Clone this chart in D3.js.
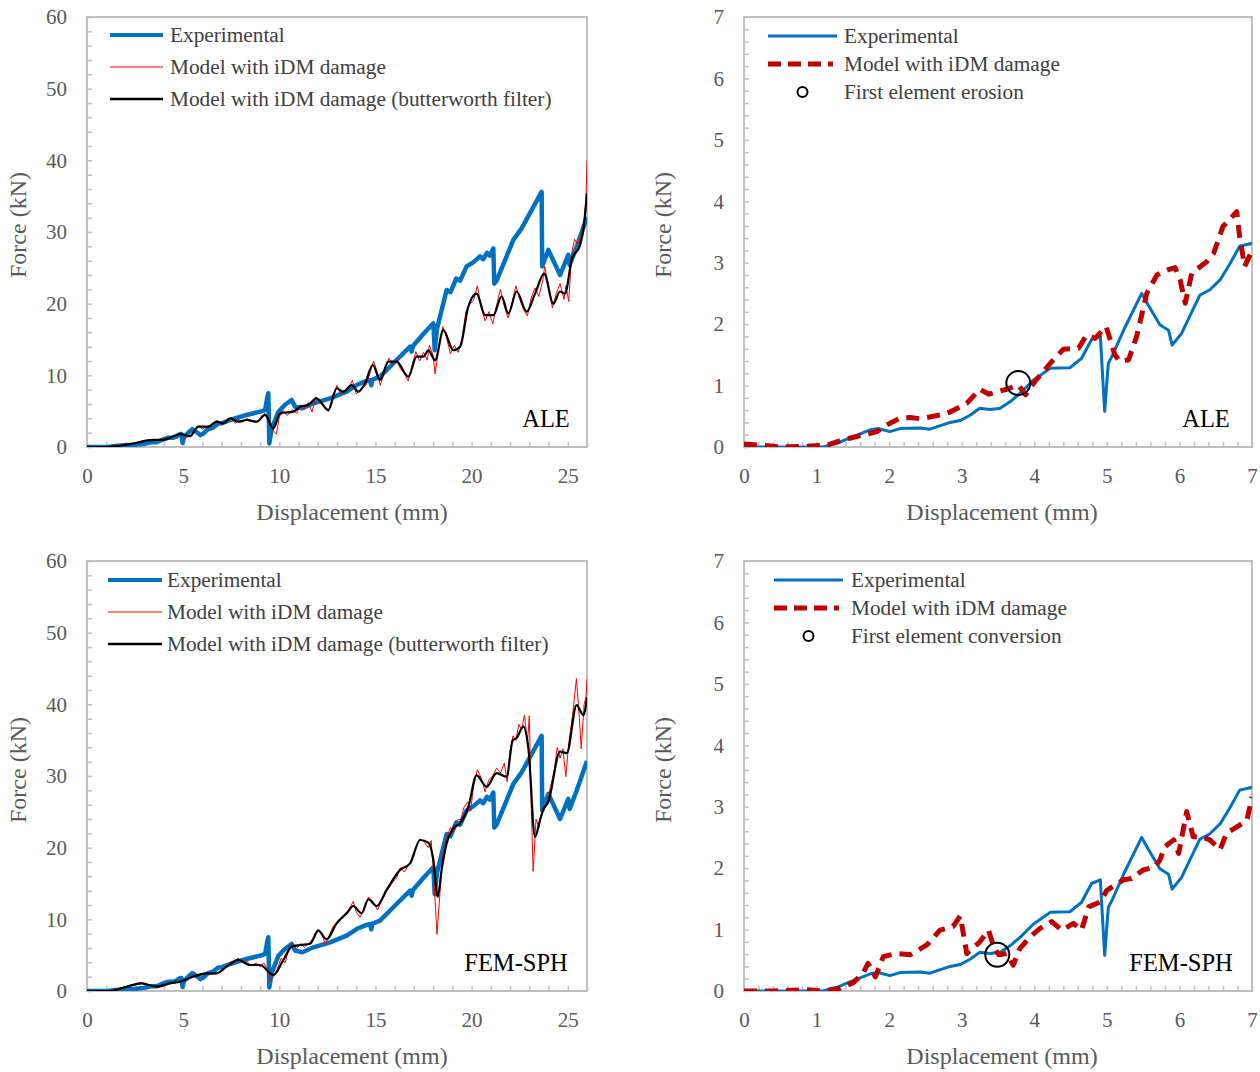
<!DOCTYPE html>
<html><head><meta charset="utf-8">
<script src="https://cdn.jsdelivr.net/npm/d3@7"></script>
<style>
body{margin:0;background:#fff}
text{font-family:"Liberation Serif","Times New Roman",serif}
</style>
</head><body>
<svg id="c" width="1260" height="1072"></svg>
<script>
// ---------------- DATA ----------------
// Experimental force-displacement (full range, mm / kN)
const expFull = [[0,0],[1.09,0],[1.46,0.15],[2.0,0.25],[2.5,0.3],[3.0,0.45],[3.3,0.65],[3.6,0.65],[3.8,0.87],[4.0,1.1],[4.2,1.28],[4.5,1.3],[4.65,1.45],[4.8,1.75],[4.91,1.81],[4.97,0.58],[5.05,1.4],[5.23,1.9],[5.48,2.5],[5.75,1.99],[5.9,1.66],[6.03,1.85],[6.28,2.47],[6.56,2.72],[6.83,3.27],[7.02,3.32],[7.44,3.77],[8.3,4.47],[9.0,4.93],[9.26,5.16],[9.38,7.0],[9.43,7.5],[9.48,0.5],[9.6,2.5],[9.95,4.9],[10.3,5.9],[10.64,6.56],[10.82,5.63],[11.2,5.4],[11.77,6.1],[12.64,6.79],[13.5,7.72],[14.02,8.65],[14.5,9.2],[14.72,9.35],[14.78,8.6],[14.85,9.4],[15.24,9.81],[16.1,12.14],[16.8,14.0],[16.88,13.3],[16.95,14.1],[17.5,15.8],[18.01,17.26],[18.08,13.5],[18.2,16.5],[18.7,21.9],[18.9,21.6],[19.2,23.5],[19.4,23.2],[19.74,25.2],[20.1,25.8],[20.44,26.6],[20.6,26.2],[20.8,27.1],[20.95,26.7],[21.13,27.7],[21.18,22.8],[21.3,23.2],[22.17,28.9],[22.6,30.5],[23.64,35.6],[23.67,25.2],[23.99,27.5],[24.6,24.0],[25.03,26.8],[25.1,25.4],[25.46,27.95],[26.0,32.1]];
// Experimental, first 7 mm
const expEarly = [[0,0],[1.09,0],[1.28,0.06],[1.46,0.15],[1.74,0.28],[1.85,0.30],[2.01,0.25],[2.15,0.30],[2.43,0.31],[2.56,0.29],[2.84,0.40],[2.98,0.43],[3.12,0.52],[3.25,0.63],[3.39,0.61],[3.53,0.63],[3.67,0.74],[3.80,0.87],[3.99,1.09],[4.22,1.28],[4.49,1.29],[4.65,1.44],[4.79,1.75],[4.91,1.81],[4.97,0.58],[5.02,1.36],[5.08,1.50],[5.23,1.90],[5.48,2.50],[5.57,2.31],[5.73,1.99],[5.85,1.90],[5.90,1.66],[6.03,1.85],[6.28,2.47],[6.42,2.56],[6.56,2.72],[6.70,2.99],[6.83,3.27],[7.02,3.32]];
// ALE model, raw
const aleRaw = [[0,0],[1,0],[2,0.3],[3,0.9],[3.5,1.0],[4,1.1],[4.5,1.5],[4.85,1.9],[5.1,1.3],[5.4,1.6],[5.8,2.9],[6.0,2.5],[6.3,2.9],[6.6,3.2],[6.8,3.7],[7.0,3.1],[7.3,3.9],[7.5,4.1],[7.7,3.3],[7.9,3.8],[8.1,3.5],[8.3,4.0],[8.6,3.6],[8.8,3.4],[9.0,3.9],[9.25,4.7],[9.45,4.0],[9.7,2.2],[9.85,1.8],[10.0,4.2],[10.2,5.1],[10.4,4.4],[10.7,5.2],[10.9,4.7],[11.1,5.9],[11.3,5.2],[11.5,6.2],[11.7,4.9],[11.9,7.0],[12.1,6.3],[12.3,5.8],[12.55,4.9],[12.8,7.1],[13.0,8.6],[13.2,7.4],[13.4,7.9],[13.6,8.2],[13.8,9.3],[14.0,7.4],[14.2,8.0],[14.5,8.6],[14.7,10.2],[14.9,12.0],[15.1,10.4],[15.25,8.6],[15.5,10.8],[15.7,12.4],[15.9,11.5],[16.1,12.3],[16.3,10.9],[16.5,10.3],[16.7,9.2],[16.9,11.3],[17.1,13.3],[17.3,12.0],[17.5,13.2],[17.7,12.1],[17.8,14.2],[18.0,12.8],[18.1,10.2],[18.3,14.0],[18.5,16.8],[18.7,15.2],[18.9,13.0],[19.1,14.2],[19.3,13.2],[19.5,15.0],[19.7,18.9],[19.9,19.9],[20.1,20.5],[20.3,22.5],[20.5,19.5],[20.7,17.6],[20.9,18.9],[21.1,17.2],[21.3,19.8],[21.5,22.0],[21.7,19.6],[21.9,18.0],[22.1,20.0],[22.3,22.5],[22.5,20.6],[22.7,19.2],[22.9,18.3],[23.1,20.8],[23.3,22.2],[23.5,21.0],[23.7,23.3],[23.8,25.2],[24.0,22.5],[24.2,19.4],[24.4,21.4],[24.6,22.8],[24.8,20.6],[24.9,22.5],[25.05,20.3],[25.2,27.0],[25.35,29.0],[25.5,28.3],[25.7,29.5],[25.85,31.5],[25.95,35.0],[26.0,40.0]];
// ALE model, butterworth filtered
const aleFilt = [[0,0],[1,0],[2.24,0.4],[3.45,1.0],[3.97,1.0],[4.84,1.81],[5.36,1.53],[5.79,2.84],[6.31,2.84],[6.74,3.53],[7.09,3.3],[7.44,4.0],[7.87,3.53],[8.3,3.77],[8.82,3.53],[9.26,4.47],[9.69,2.6],[10.04,4.7],[10.73,4.93],[11.08,5.63],[11.5,5.86],[11.93,6.79],[12.55,5.16],[12.98,8.18],[13.33,7.72],[13.76,8.65],[14.11,7.72],[14.46,8.88],[14.86,11.44],[15.24,9.35],[15.67,11.9],[16.1,11.9],[16.71,9.81],[17.14,12.6],[17.49,12.6],[17.75,13.5],[18.1,12.1],[18.53,16.3],[19.05,13.5],[19.4,14.0],[19.83,19.6],[20.26,21.4],[20.7,18.4],[21.13,18.4],[21.56,21.0],[21.91,18.65],[22.34,21.7],[22.86,18.9],[23.3,21.4],[23.77,24.2],[24.25,20.0],[24.6,21.7],[24.86,21.4],[25.2,26.1],[25.64,28.2],[25.81,30.3],[26.0,35.4]];
// FEM-SPH model, raw
const sphRaw = [[0,0],[1.2,0],[2.0,0.6],[2.5,1.0],[2.85,1.2],[3.2,0.8],[3.6,0.5],[4.0,0.9],[4.4,1.2],[4.8,1.2],[5.2,1.6],[5.5,2.1],[5.8,2.0],[6.2,2.6],[6.5,2.3],[6.8,2.6],[7.1,3.0],[7.3,3.6],[7.6,3.8],[7.85,4.6],[8.1,3.9],[8.3,4.2],[8.5,3.5],[8.8,3.9],[9.0,3.4],[9.2,3.9],[9.4,2.9],[9.55,1.4],[9.7,2.0],[9.9,3.1],[10.1,4.6],[10.3,3.9],[10.5,5.9],[10.7,6.6],[10.9,5.9],[11.1,6.6],[11.3,6.1],[11.6,6.8],[11.8,7.5],[12.0,8.6],[12.2,8.0],[12.4,6.5],[12.6,7.8],[12.8,9.0],[13.0,9.6],[13.3,10.4],[13.6,11.3],[13.85,12.5],[14.0,11.0],[14.2,10.3],[14.4,11.4],[14.65,13.1],[14.9,12.4],[15.1,11.3],[15.3,12.4],[15.6,14.0],[15.9,15.2],[16.1,15.8],[16.3,17.2],[16.5,16.6],[16.8,17.9],[17.0,19.3],[17.3,21.2],[17.5,20.9],[17.75,20.0],[17.9,21.0],[18.05,15.0],[18.2,7.9],[18.35,13.5],[18.5,19.0],[18.7,21.4],[18.9,22.8],[19.05,22.0],[19.2,23.8],[19.45,24.0],[19.6,25.6],[19.8,26.4],[19.95,25.1],[20.1,28.6],[20.3,30.9],[20.5,29.7],[20.7,27.8],[20.9,29.5],[21.1,30.0],[21.3,31.1],[21.5,30.4],[21.7,31.8],[21.85,29.2],[22.0,33.5],[22.15,35.6],[22.3,35.0],[22.45,37.2],[22.6,36.5],[22.75,38.5],[22.9,34.5],[23.0,38.4],[23.1,26.0],[23.2,16.7],[23.35,24.0],[23.5,22.8],[23.7,25.6],[23.9,26.0],[24.1,28.5],[24.3,30.8],[24.45,34.0],[24.6,32.5],[24.75,33.8],[24.9,29.9],[25.05,34.6],[25.25,38.5],[25.45,43.6],[25.6,38.2],[25.7,33.8],[25.85,40.0],[25.95,41.0],[26.0,43.5]];
// FEM-SPH model, butterworth filtered
const sphFilt = [[0,0],[1.2,0],[2.06,0.6],[2.84,1.07],[3.62,0.6],[4.32,1.07],[4.84,1.3],[5.53,2.0],[6.22,2.47],[6.74,2.47],[7.26,3.4],[7.87,4.33],[8.48,3.63],[9.0,3.63],[9.69,2.23],[10.21,4.33],[10.64,6.19],[11.08,6.42],[11.6,6.6],[12.03,8.42],[12.46,7.2],[12.98,9.44],[13.5,10.84],[13.85,11.86],[14.28,10.84],[14.63,12.8],[15.06,11.86],[15.58,14.1],[16.28,16.9],[16.8,17.8],[17.32,21.07],[17.75,20.7],[18.01,18.3],[18.24,13.16],[18.44,16.9],[18.7,20.6],[19.05,22.7],[19.4,23.4],[19.83,25.7],[20.26,30.1],[20.78,28.5],[21.3,30.4],[21.82,29.9],[22.14,35.0],[22.34,35.3],[22.69,36.9],[22.95,33.9],[23.3,21.5],[23.56,23.9],[23.73,25.3],[23.99,26.4],[24.6,33.4],[24.95,33.2],[25.46,39.9],[25.81,38.5],[26.0,41.0]];
// ALE model with iDM damage, first 7 mm
const aleEarly = [[0,0.05],[0.22,0.03],[0.5,0],[0.86,0.01],[1.14,0.03],[1.32,0.10],[1.55,0.17],[1.83,0.25],[1.97,0.36],[2.15,0.47],[2.29,0.48],[2.43,0.46],[2.70,0.52],[2.84,0.57],[3.07,0.71],[3.25,0.94],[3.37,0.86],[3.62,0.94],[3.78,1.01],[3.88,0.85],[3.99,1.04],[4.24,1.39],[4.40,1.59],[4.61,1.61],[4.72,1.82],[4.84,1.77],[4.99,1.96],[5.11,1.50],[5.18,1.39],[5.30,1.42],[5.41,1.80],[5.55,2.50],[5.69,2.80],[5.83,2.88],[5.94,2.92],[6.01,2.72],[6.08,2.34],[6.17,2.83],[6.38,3.02],[6.47,3.15],[6.60,3.59],[6.79,3.83],[6.83,3.42],[6.90,2.94],[7.0,3.2]];
// FEM-SPH model with iDM damage, first 7 mm
const sphEarly = [[0,0],[0.40,0],[0.86,0.02],[1.09,0],[1.32,0.04],[1.51,0.14],[1.64,0.29],[1.71,0.45],[1.81,0.23],[1.92,0.56],[2.10,0.61],[2.29,0.59],[2.52,0.75],[2.70,0.99],[2.88,1.05],[2.98,1.22],[3.07,0.61],[3.25,0.80],[3.37,0.99],[3.44,0.72],[3.51,0.59],[3.62,0.61],[3.71,0.42],[3.80,0.69],[3.94,0.88],[4.08,1.02],[4.24,1.13],[4.38,0.99],[4.54,1.10],[4.65,0.99],[4.75,1.37],[4.91,1.45],[5.00,1.64],[5.23,1.81],[5.34,1.83],[5.50,1.97],[5.66,2.02],[5.73,2.13],[5.80,2.35],[5.92,2.46],[5.99,2.24],[6.10,2.92],[6.19,2.51],[6.31,2.51],[6.42,2.46],[6.56,2.30],[6.65,2.57],[6.83,2.70],[6.93,2.78],[7.0,3.16]];
// First element erosion / conversion points
const erosionPt = [[3.78,1.04]];
const conversionPt = [[3.49,0.59]];
// tick labels
const xTicksLong = [0,5,10,15,20,25];
const yTicksLong = [0,10,20,30,40,50,60];
const xTicksShort = [0,1,2,3,4,5,6,7];
const yTicksShort = [0,1,2,3,4,5,6,7];
const legendLong = ["Experimental","Model with iDM damage","Model with iDM damage (butterworth filter)"];
const legendShortALE = ["Experimental","Model with iDM damage","First element erosion"];
const legendShortSPH = ["Experimental","Model with iDM damage","First element conversion"];

// ---------------- DRAW ----------------
const svg = d3.select("#c");
const GREY = "#bfbfbf", TXT = "#595959";
const BLUE = "#0070c0", RED = "#ff0000", DRED = "#c00000";
const fmt = d3.format("d");

function panel(o){
  const x = d3.scaleLinear().domain(o.xDom).range([o.L, o.R]);
  const y = d3.scaleLinear().domain(o.yDom).range([o.B, o.T]);
  const g = svg.append("g");
  const id = "clip" + o.id;
  svg.append("clipPath").attr("id", id).append("rect")
    .attr("x", o.L).attr("y", o.T - 30).attr("width", o.R - o.L).attr("height", o.B - o.T + 30);

  // minor ticks
  const xMinor = d3.range(o.xDom[0], o.xDom[1] + 1e-9, o.xMinor);
  const yMinor = d3.range(o.yDom[0], o.yDom[1] + 1e-9, o.yMinor);
  g.append("g").attr("transform", `translate(0,${o.B})`)
    .call(d3.axisBottom(x).tickValues(xMinor).tickSize(-5).tickFormat(""))
    .call(a => a.select(".domain").remove())
    .call(a => a.selectAll("line").attr("stroke", GREY).attr("stroke-width", 1.5));
  g.append("g").attr("transform", `translate(${o.L},0)`)
    .call(d3.axisLeft(y).tickValues(yMinor).tickSize(-5).tickFormat(""))
    .call(a => a.select(".domain").remove())
    .call(a => a.selectAll("line").attr("stroke", GREY).attr("stroke-width", 1.5));
  // major labels
  g.append("g").attr("transform", `translate(0,${o.B})`)
    .call(d3.axisBottom(x).tickValues(o.xTicks).tickSize(0).tickPadding(21).tickFormat(fmt))
    .call(a => a.select(".domain").remove())
    .call(a => a.selectAll("text").attr("fill", TXT).style("font-size", "21px")
      .style("font-family", '"Liberation Serif",serif'));
  g.append("g").attr("transform", `translate(${o.L},0)`)
    .call(d3.axisLeft(y).tickValues(o.yTicks).tickSize(0).tickPadding(o.yPad).tickFormat(fmt))
    .call(a => a.select(".domain").remove())
    .call(a => a.selectAll("text").attr("fill", TXT).style("font-size", "21px")
      .style("font-family", '"Liberation Serif",serif'));
  // frame
  g.append("rect").attr("x", o.L).attr("y", o.T).attr("width", o.R - o.L).attr("height", o.B - o.T)
    .attr("fill", "none").attr("stroke", GREY).attr("stroke-width", 2);

  // axis titles
  g.append("text").attr("x", o.xTitleX).attr("y", o.B + 73)
    .attr("text-anchor", "middle").attr("fill", TXT).style("font-size", "24px").text("Displacement (mm)");
  g.append("text").attr("transform", `translate(${o.yTitleX},${o.yTitleY}) rotate(-90)`)
    .attr("text-anchor", "middle").attr("fill", TXT).style("font-size", "24px").text("Force (kN)");

  // series
  const line = d3.line().x(d => x(d[0])).y(d => y(d[1]));
  const smooth = d3.line().x(d => x(d[0])).y(d => y(d[1])).curve(d3.curveMonotoneX);
  const sg = g.append("g").attr("clip-path", `url(#${id})`);
  o.series.forEach(s => {
    sg.append("path").datum(s.data).attr("d", s.smooth ? smooth : line).attr("fill", "none")
      .attr("stroke", s.color).attr("stroke-width", s.width)
      .attr("stroke-dasharray", s.dash || null)
      .attr("stroke-linejoin", "round").attr("stroke-linecap", s.cap || "butt");
  });
  if (o.marker) {
    sg.selectAll("circle.mk").data(o.marker).join("circle")
      .attr("cx", d => x(d[0])).attr("cy", d => y(d[1])).attr("r", 12)
      .attr("fill", "none").attr("stroke", "#000").attr("stroke-width", 2);
  }
  // label
  g.append("text").attr("x", o.tagX).attr("y", o.B - 20).attr("text-anchor", "middle")
    .attr("fill", "#000").style("font-size", "24.5px").text(o.tag);

  // legend
  const lg = g.append("g");
  o.legend.forEach((it, i) => {
    const yy = o.lgY + i * o.lgStep;
    if (it.type === "line") {
      lg.append("line").attr("x1", o.lgX1).attr("x2", o.lgX2).attr("y1", yy).attr("y2", yy)
        .attr("stroke", it.color).attr("stroke-width", it.width)
        .attr("stroke-dasharray", it.dash || null).attr("stroke-linecap", it.cap || "butt");
    } else {
      lg.append("circle").attr("cx", (o.lgX1 + o.lgX2) / 2).attr("cy", yy).attr("r", 5)
        .attr("fill", "none").attr("stroke", "#000").attr("stroke-width", 2);
    }
    lg.append("text").attr("x", o.lgTX).attr("y", yy).attr("dy", "0.33em")
      .attr("fill", "#404040").style("font-size", "21.3px").text(it.label);
  });
}

const dashStyle = "13,8";

panel({id:1, L:87, R:587, T:17, B:447, xDom:[0,26], yDom:[0,60], xMinor:1, yMinor:2,
  xTicks:xTicksLong, yTicks:yTicksLong, yPad:20, yTitleX:26, yTitleY:225, xTitleX:352,
  series:[{data:expFull,color:BLUE,width:4.5},{data:aleRaw,color:RED,width:1},{data:aleFilt,color:"#000",width:2.2,smooth:true}],
  tag:"ALE", tagX:546,
  lgX1:110, lgX2:163, lgTX:170, lgY:35, lgStep:32,
  legend:[{type:"line",color:BLUE,width:4,label:legendLong[0]},{type:"line",color:RED,width:1,label:legendLong[1]},{type:"line",color:"#000",width:2.5,label:legendLong[2]}]
});
panel({id:2, L:744, R:1252, T:17, B:447, xDom:[0,7], yDom:[0,7], xMinor:0.2, yMinor:0.2,
  xTicks:xTicksShort, yTicks:yTicksShort, yPad:20, yTitleX:671, yTitleY:225, xTitleX:1002,
  series:[{data:expEarly,color:BLUE,width:3},{data:aleEarly,color:DRED,width:5,dash:dashStyle}],
  marker:erosionPt,
  tag:"ALE", tagX:1206,
  lgX1:768, lgX2:837, lgTX:844, lgY:36, lgStep:28,
  legend:[{type:"line",color:BLUE,width:3,label:legendShortALE[0]},{type:"line",color:DRED,width:5,dash:"13,7,13,7,13,7,5",label:legendShortALE[1]},{type:"dot",label:legendShortALE[2]}]
});
panel({id:3, L:87, R:587, T:561, B:991, xDom:[0,26], yDom:[0,60], xMinor:1, yMinor:2,
  xTicks:xTicksLong, yTicks:yTicksLong, yPad:20, yTitleX:26, yTitleY:770, xTitleX:352,
  series:[{data:expFull,color:BLUE,width:4.5},{data:sphRaw,color:RED,width:1},{data:sphFilt,color:"#000",width:2.2,smooth:true}],
  tag:"FEM-SPH", tagX:516,
  lgX1:108, lgX2:162, lgTX:167, lgY:580, lgStep:32,
  legend:[{type:"line",color:BLUE,width:4,label:legendLong[0]},{type:"line",color:RED,width:1,label:legendLong[1]},{type:"line",color:"#000",width:2.5,label:legendLong[2]}]
});
panel({id:4, L:744, R:1252, T:561, B:991, xDom:[0,7], yDom:[0,7], xMinor:0.2, yMinor:0.2,
  xTicks:xTicksShort, yTicks:yTicksShort, yPad:20, yTitleX:671, yTitleY:770, xTitleX:1002,
  series:[{data:expEarly,color:BLUE,width:3},{data:sphEarly,color:DRED,width:5,dash:dashStyle}],
  marker:conversionPt,
  tag:"FEM-SPH", tagX:1181,
  lgX1:774, lgX2:843, lgTX:851, lgY:580, lgStep:28,
  legend:[{type:"line",color:BLUE,width:3,label:legendShortSPH[0]},{type:"line",color:DRED,width:5,dash:"13,7,13,7,13,7,5",label:legendShortSPH[1]},{type:"dot",label:legendShortSPH[2]}]
});
</script>
</body></html>
